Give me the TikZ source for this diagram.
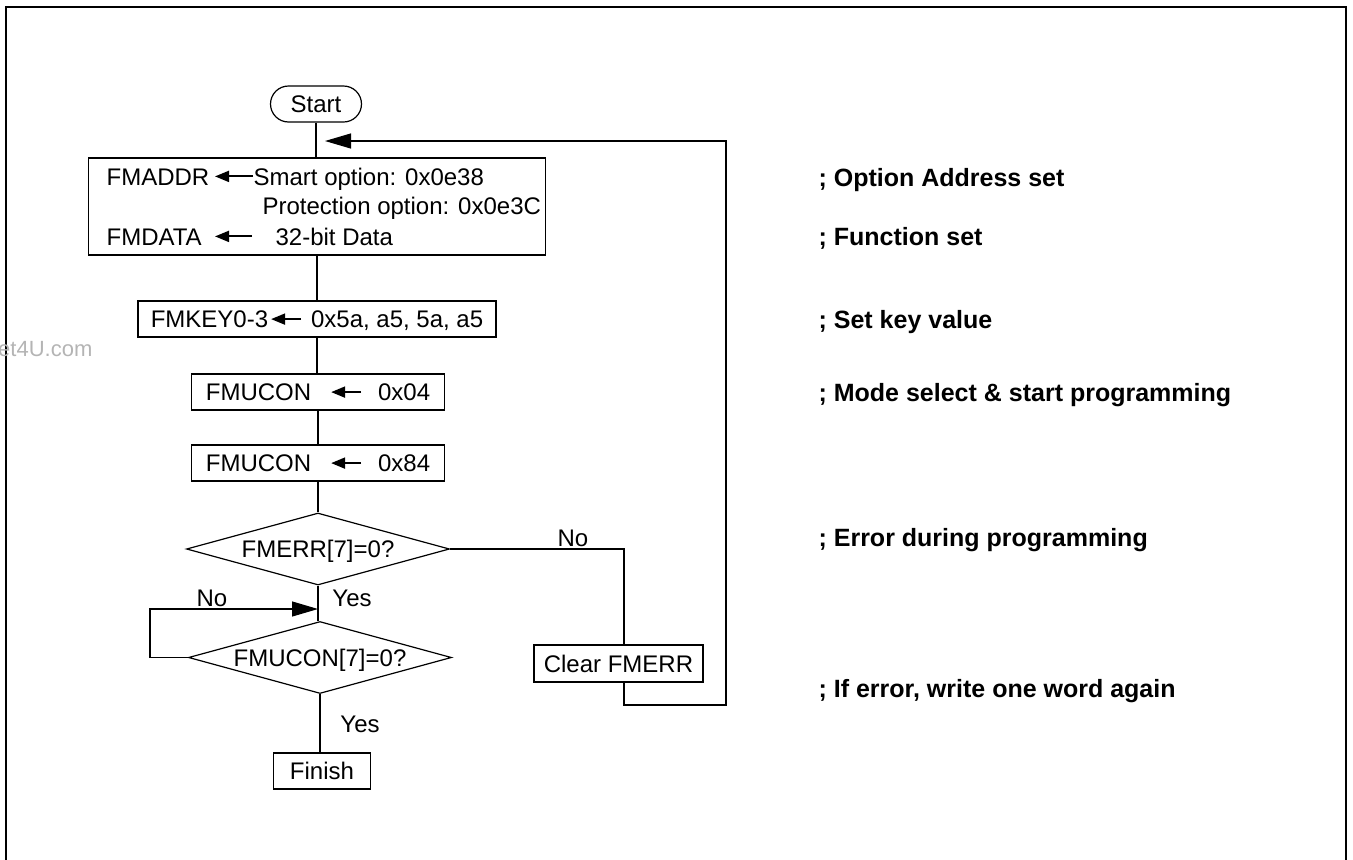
\documentclass[tikz,border=0pt]{standalone}
\usepackage{fontspec}
\setmainfont{Liberation Sans}
\usetikzlibrary{arrows.meta,shapes.geometric,calc}
\definecolor{wmgray}{RGB}{180,180,180}
\newcommand\txtarr{\tikz[baseline=-8.6pt]\draw[line width=1.9pt,-{Triangle[length=14pt,width=11pt]}] (30pt,0pt) -- (0pt,0pt);}
\begin{document}
\begin{tikzpicture}[x=1pt,y=-1pt,line width=1.2pt,
  txt/.style={font=\fontsize{24}{28}\selectfont, inner sep=0pt},
  cmt/.style={font=\fontsize{25}{29}\selectfont\bfseries, inner sep=0pt, anchor=base west},
  box/.style={draw, rectangle, minimum height=36pt, inner sep=0pt, text height=17.4pt, text depth=0pt,
              font=\fontsize{24}{28}\selectfont},
  dia/.style={draw, diamond, aspect=3.65, minimum width=263pt, minimum height=72pt, inner sep=0pt,
              text height=17.4pt, text depth=0pt, font=\fontsize{24}{28}\selectfont},
  conarrow/.style={-{Triangle[length=26pt,width=15pt]}},
  txtarrow/.style={line width=1.9pt,-{Triangle[length=14pt,width=11pt]}}]
\useasboundingbox (0,0) rectangle (1353,860);
% frame
\draw[line width=2.2pt] (6,875) -- (6,7) -- (1346,7) -- (1346,875);
% watermark
\node[anchor=base east, inner sep=0pt, text=wmgray, font=\fontsize{22}{26}\selectfont] (wm) at (93,356) {DataSheet4U.com};
% nodes
\node[box, minimum width=91pt, rounded corners=18pt] (start) at (316,104) {Start};
\node[box, minimum width=457pt, minimum height=97pt] (setb) at (317,206.5) {};
\node[txt, anchor=base west] (fmaddr) at (106,185) {FMADDR};
\node[txt, anchor=base west] (smart) at (253,185) {Smart option: 0x0e38};
\node[txt, anchor=base west] (prot) at (262,214) {Protection option: 0x0e3C};
\node[txt, anchor=base west] (fmdata) at (106,245) {FMDATA};
\node[txt, anchor=base west] (d32) at (275,245) {32-bit Data};
\draw[txtarrow] ($(smart.base west)+(0,-8.6)$) -- ++(-38,0);
\draw[txtarrow] ($(d32.base west)+(-23,-8.6)$) -- ++(-37,0);
\node[box, minimum width=358pt] (key) at (317,319) {FMKEY0-3\hspace{2pt}\txtarr\hspace{9pt}0x5a, a5, 5a, a5};
\node[box, minimum width=253pt] (con1) at (318,392) {FMUCON\hspace{19pt}\txtarr\hspace{16pt}0x04};
\node[box, minimum width=253pt] (con2) at (318,463) {FMUCON\hspace{19pt}\txtarr\hspace{16pt}0x84};
\node[dia] (d1) at (318,549) {FMERR[7]=0?};
\node[dia] (d2) at (320,657.5) {FMUCON[7]=0?};
\node[box, minimum width=169pt, minimum height=37pt] (clr) at (618.5,663.5) {Clear FMERR};
\node[box, minimum width=97pt] (fin) at (322,771) {Finish};
% labels
\node[txt, anchor=base] (no1) at (573,546) {No};
\node[txt, anchor=base] (yes1) at (352,606) {Yes};
\node[txt, anchor=base] (no2) at (212,606) {No};
\node[txt, anchor=base] (yes2) at (360,732) {Yes};
% comments
\node[cmt] (c1) at (818,186) {; Option Address set};
\node[cmt] (c2) at (818,245) {; Function set};
\node[cmt] (c3) at (818,328) {; Set key value};
\node[cmt] (c4) at (818,401) {; Mode select \& start programming};
\node[cmt] (c5) at (818,546) {; Error during programming};
\node[cmt] (c6) at (818,697) {; If error, write one word again};
% coordinates
\coordinate (loopin) at (318,609);
\coordinate (loopl) at (150,609);
\coordinate (rx) at (624,549);
\coordinate (lb) at (624,705);
\coordinate (rb) at (726,705);
\coordinate (rt) at (726,141);
\coordinate (ret) at (325,141);
% connectors
\draw (start.south) -- (start.south |- setb.north);
\draw (setb.south) -- (setb.south |- key.north);
\draw (key.south) -- (key.south |- con1.north);
\draw (con1.south) -- (con1.south |- con2.north);
\draw (con2.south) -- (con2.south |- d1.north);
\draw (d1.south) -- (d1.south |- d2.north);
\draw[conarrow] (d2.west) -| (loopl) -- (loopin);
\draw (d2.south) -- (d2.south |- fin.north);
\draw (d1.east) -- (rx) -- (rx |- clr.north);
\draw[conarrow] (rx |- clr.south) -- (lb) -- (rb) -- (rt) -- (ret);
\end{tikzpicture}
\end{document}
